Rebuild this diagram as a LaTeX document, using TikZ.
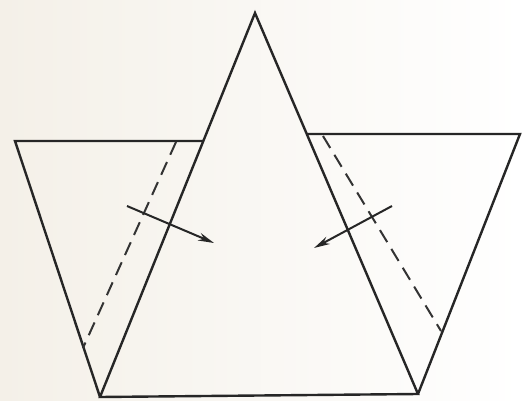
\documentclass[tikz,border=0pt]{standalone}
\usetikzlibrary{arrows.meta}
\definecolor{paper}{RGB}{244,240,232}
\begin{document}
\begin{tikzpicture}[x=1pt,y=-1pt,
  edge/.style={line width=2.4pt,line join=miter,black!85},
  fold/.style={line width=2pt,black!80,dash pattern=on 14pt off 8pt},
  push/.style={line width=2pt,black!85,-{Stealth[length=16pt,width=8pt]}}]
\shade[left color=paper,right color=white] (0,0) rectangle (522,401);
\useasboundingbox (0,0) rectangle (522,401);
% points
\coordinate (apex) at (255,13);
\coordinate (bl) at (100,397);
\coordinate (br) at (418,394);
\coordinate (tl) at (15,141);
\coordinate (tr) at (520,134);
\coordinate (ml) at (203,141);
\coordinate (mr) at (307,134);
% triangle
\draw[edge] (apex) -- (bl) -- (br) -- cycle;
% side flaps
\draw[edge] (ml) -- (tl) -- (bl);
\draw[edge] (mr) -- (tr) -- (br);
% fold lines
\coordinate (dl1) at (176,142);
\coordinate (dl2) at (83,348);
\coordinate (dr1) at (323,136);
\coordinate (dr2) at (441,331);
\draw[fold] (dl1) -- (dl2);
\draw[fold] (dr1) -- (dr2);
% arrows
\coordinate (al1) at (127,206);
\coordinate (al2) at (214,243);
\coordinate (ar1) at (392,206);
\coordinate (ar2) at (314,248);
\draw[push] (al1) -- (al2);
\draw[push] (ar1) -- (ar2);
\end{tikzpicture}
\end{document}
